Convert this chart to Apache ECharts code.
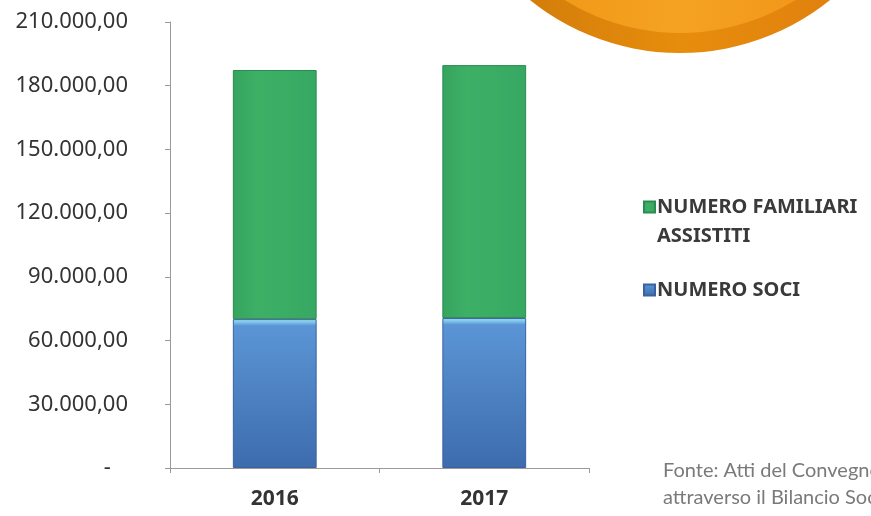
<!DOCTYPE html>
<html>
<head>
<meta charset="utf-8">
<script src="https://cdn.jsdelivr.net/npm/echarts@6/dist/echarts.min.js"></script>
<style>
  html, body { margin: 0; padding: 0; background: #fff; }
  #chart { width: 871px; height: 516px; }
</style>
</head>
<body>
<div id="chart"></div>
<script>
const years = ['2016', '2017'];
const soci = [70100, 70600];
const familiari = [117300, 119100];
const yTicks = [0, 30000, 60000, 90000, 120000, 150000, 180000, 210000];

function fmtIt(v) {
  if (v === 0) return '-   ';
  return String(v).replace(/\B(?=(\d{3})+(?!\d))/g, '.') + ',00';
}

const legendText = { fontSize: 20, color: '#3a3a3a', fontWeight: 'bold', padding: [0, 0, 0, -3] };

const chart = echarts.init(document.getElementById('chart'));
chart.setOption({
  animation: false,
  textStyle: { fontFamily: 'Noto Sans' },
  grid: { left: 170, right: 282, top: 22, bottom: 48 },
  legend: [
    {
      left: 638, top: 192,
      itemWidth: 11, itemHeight: 11, icon: 'rect',
      data: ['NUMERO FAMILIARI ASSISTITI'],
      formatter: function () { return 'NUMERO FAMILIARI'; },
      textStyle: legendText
    },
    {
      left: 638, top: 275,
      itemWidth: 11, itemHeight: 11, icon: 'rect',
      data: ['NUMERO SOCI'],
      textStyle: legendText
    }
  ],
  graphic: [
    {
      type: 'circle', z: -1, silent: true,
      shape: { cx: 680, cy: -186, r: 239 },
      style: {
        fill: new echarts.graphic.LinearGradient(0, 0, 1, 0, [
          { offset: 0, color: '#c8740a' },
          { offset: 0.5, color: '#e78d0c' },
          { offset: 1, color: '#de7a10' }
        ])
      }
    },
    {
      type: 'circle', z: -1, silent: true,
      shape: { cx: 680, cy: -186, r: 219 },
      style: {
        fill: new echarts.graphic.LinearGradient(0, 0, 1, 0, [
          { offset: 0, color: '#ef9210' },
          { offset: 0.5, color: '#f5a222' },
          { offset: 1, color: '#ef8e12' }
        ])
      }
    },
    {
      type: 'text', left: 657, top: 226,
      style: { text: 'ASSISTITI', fontSize: 20, fontWeight: 'bold', fill: '#3a3a3a', fontFamily: 'Noto Sans' }
    },
    {
      type: 'text', left: 663, top: 457,
      style: { text: 'Fonte: Atti del Convegno\nattraverso il Bilancio Sociale', fontSize: 20, lineHeight: 27, fill: '#7a7a7a', fontFamily: 'Lato' }
    }
  ],
  xAxis: {
    type: 'category',
    data: years,
    axisLine: { lineStyle: { color: '#9a9a9a' } },
    axisTick: { show: true, length: 5, lineStyle: { color: '#9a9a9a' } },
    axisLabel: { margin: 21, fontSize: 21, color: '#333', fontWeight: 'bold' }
  },
  yAxis: {
    type: 'value',
    min: 0,
    max: 210000,
    interval: 30000,
    splitLine: { show: false },
    axisLine: { show: true, lineStyle: { color: '#9a9a9a' } },
    axisTick: { show: true, length: 5, lineStyle: { color: '#9a9a9a' } },
    axisLabel: {
      margin: 42, fontSize: 22, color: '#333',
      formatter: function (v) { return yTicks.indexOf(v) >= 0 ? fmtIt(v) : ''; }
    }
  },
  series: [
    {
      name: 'NUMERO SOCI',
      type: 'bar',
      stack: 'tot',
      barWidth: '40%',
      data: soci,
      itemStyle: {
        color: new echarts.graphic.LinearGradient(0, 0, 0, 1, [
          { offset: 0, color: '#a6e2f4' },
          { offset: 0.02, color: '#7fc6ec' },
          { offset: 0.045, color: '#5b95d5' },
          { offset: 1, color: '#3d6cad' }
        ]),
        borderColor: '#3a62a0',
        borderWidth: 1
      }
    },
    {
      name: 'NUMERO FAMILIARI ASSISTITI',
      type: 'bar',
      stack: 'tot',
      data: familiari,
      itemStyle: {
        color: new echarts.graphic.LinearGradient(0, 0, 1, 0, [
          { offset: 0, color: '#36a45f' },
          { offset: 0.3, color: '#3db066' },
          { offset: 1, color: '#37a862' }
        ]),
        borderColor: '#2a8c50',
        borderWidth: 1
      }
    }
  ]
});
</script>
</body>
</html>
